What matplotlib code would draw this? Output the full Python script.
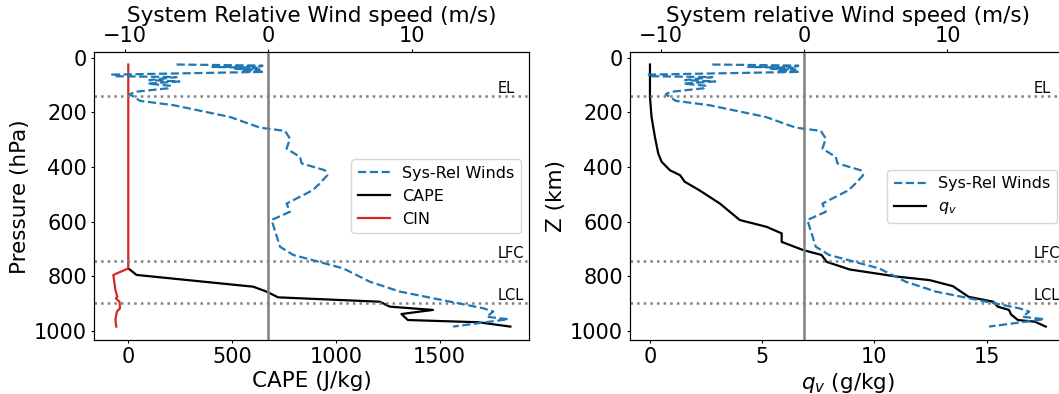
import matplotlib
matplotlib.use("Agg")
import matplotlib.pyplot as plt

# system relative wind profile (m/s) vs pressure (hPa)
wind_p = [25, 29, 32, 34, 37, 41, 44, 48, 52, 62, 68, 71, 82, 87, 95, 103, 112, 125, 134, 158,
          174, 217, 256, 268, 296, 333, 363, 387, 412, 430, 460, 485, 534, 564, 594, 692, 722,
          771, 820, 856, 917, 929, 948, 957, 984]
wind_u = [-6.4, -0.4, -0.5, -3.9, -0.8, -2.3, -0.6, -1.9, -0.3, -10.9, -10.6, -6.4, -8.3, -6.2,
          -8.4, -6.8, -7.0, -9.3, -9.65, -8.95, -6.6, -2.67, -0.58, 1.17, 1.51, 1.28, 2.21, 2.33,
          3.96, 4.12, 3.6, 3.1, 1.28, 1.51, 0.23, 0.82, 1.75, 5.23, 7.1, 9.19, 15.0, 15.7, 15.24,
          16.75, 12.9]

# CAPE / CIN (J/kg)
cape_p = [771, 795, 838, 856, 877, 893, 911, 923, 938, 960, 968, 984]
cape = [0, 40, 602, 666, 722, 1212, 1260, 1468, 1316, 1347, 1685, 1841]
cin_p = [25, 771, 795, 850, 875, 881, 893, 917, 929, 960, 984]
cin = [0, 0, -72, -62, -53, -60, -42, -40, -55, -62, -58]

# water vapour mixing ratio (g/kg)
qv_p = [25, 144, 217, 290, 351, 381, 412, 430, 454, 485, 534, 594, 619, 643, 674, 704, 722,
        747, 775, 801, 814, 836, 875, 893, 911, 923, 940, 960, 966, 984]
qv = [0.0, 0.0, 0.07, 0.22, 0.37, 0.52, 0.89, 1.34, 1.55, 2.2, 3.12, 4.0, 5.2, 5.87, 5.87,
      6.83, 7.65, 7.87, 8.9, 11.0, 12.47, 13.5, 14.2, 15.3, 15.5, 16.0, 16.1, 16.4, 17.15, 17.64]

levels = {'EL': 141, 'LFC': 745, 'LCL': 897}

plt.rcParams['xtick.major.size'] = 2.5
plt.rcParams['ytick.major.size'] = 2.5
plt.rcParams['xtick.major.pad'] = 2.5
plt.rcParams['ytick.major.pad'] = 2.5
plt.rcParams['axes.labelpad'] = 2.9

fs = 15
lfs = 15.5
fig = plt.figure(figsize=(10.59, 3.94), dpi=100)

def deco(ax, ax2):
    for name, p in levels.items():
        ax.axhline(p, color='gray', ls=':', lw=1.8)
        ax2.text(16, p, name, ha='left', va='bottom', fontsize=10.5)
    ax2.axvline(0, color='gray', lw=1.8)
    ax.set_ylim(1033, -19)
    ax.set_yticks([0, 200, 400, 600, 800, 1000])
    ax.tick_params(labelsize=fs)
    ax2.tick_params(labelsize=fs)

# left: CAPE / CIN
ax = fig.add_axes([0.0888, 0.1371, 0.4108, 0.7297])
ax2 = ax.twiny()
l2, = ax.plot(cape, cape_p, color='black', lw=1.6, label='CAPE')
l3, = ax.plot(cin, cin_p, color='tab:red', lw=1.6, label='CIN')
l1, = ax2.plot(wind_u, wind_p, color='tab:blue', ls='--', lw=1.6, label='Sys-Rel Winds')
ax.set_xlim(-165, 1931)
ax2.set_xlim(-12.16, 18.2)
ax.set_xlabel('CAPE (J/kg)', fontsize=lfs)
ax.set_ylabel('Pressure (hPa)', fontsize=lfs)
ax2.set_xlabel('System Relative Wind speed (m/s)', fontsize=lfs)
deco(ax, ax2)
ax2.legend([l1, l2, l3], ['Sys-Rel Winds', 'CAPE', 'CIN'], loc='center right', fontsize=11.5)

# right: water vapour
bx = fig.add_axes([0.5949, 0.1371, 0.4108, 0.7297])
bx2 = bx.twiny()
m2, = bx.plot(qv, qv_p, color='black', lw=1.6)
m1, = bx2.plot(wind_u, wind_p, color='tab:blue', ls='--', lw=1.6)
bx.set_xlim(-0.89, 18.5)
bx2.set_xlim(-12.14, 18.2)
bx.set_xlabel('$q_v$ (g/kg)', fontsize=lfs)
bx.set_ylabel('Z (km)', fontsize=lfs)
bx2.set_xlabel('System relative Wind speed (m/s)', fontsize=lfs)
deco(bx, bx2)
bx2.legend([m1, m2], ['Sys-Rel Winds', '$q_v$'], loc='center right', fontsize=11.5)

fig.savefig('out.png', dpi=100)
